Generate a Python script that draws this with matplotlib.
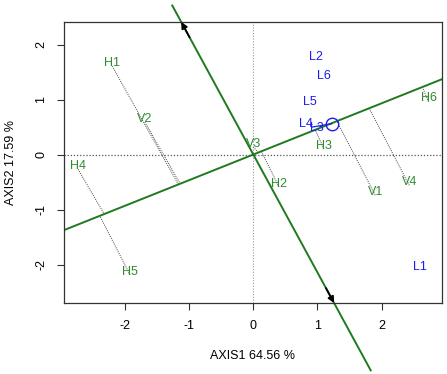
"""Biplot with projection axis, rebuilt from the reference picture."""

import matplotlib
matplotlib.use("Agg")
import matplotlib.pyplot as plt
import numpy as np

plt.rcParams["font.family"] = ["Liberation Sans", "DejaVu Sans"]
plt.rcParams["axes.unicode_minus"] = False

# green group: labels and coordinates
green_labels = ["H1", "V2", "V3", "H4", "H5", "H2", "H3", "V1", "V4", "H6"]
green_x = [-2.20, -1.69, 0.00, -2.73, -1.92, 0.40, 1.10, 1.90, 2.43, 2.73]
green_y = [1.67, 0.65, 0.20, -0.21, -2.13, -0.53, 0.16, -0.68, -0.50, 1.02]

# blue group
blue_labels = ["L2", "L6", "L5", "L4", "L3", "L1"]
blue_x = [0.98, 1.10, 0.88, 0.82, 0.99, 2.59]
blue_y = [1.78, 1.42, 0.95, 0.55, 0.48, -2.05]

# direction of the projection axis and the marked point on it
axis_dir = np.array([1.0, 0.466])
marked = (1.22, 0.56)

GREEN = "#2e8b2e"
LINE_GREEN = "#1f7a1f"
BLUE = "#1c1cf0"

fig = plt.figure(figsize=(4.47, 3.74), dpi=100)
ax = fig.add_axes([64 / 447, 71 / 374, 378 / 447, 281 / 374])
ax.set_xlim(-2.95, 2.94)
ax.set_ylim(-2.70, 2.41)

ax.axhline(0, color="#555555", linestyle=(0, (1, 1.5)), linewidth=0.9)
ax.axvline(0, color="#999999", linestyle=(0, (1, 1.5)), linewidth=0.8)

u = axis_dir / np.linalg.norm(axis_dir)
perp = np.array([-u[1], u[0]])

# dotted projections onto the axis
for px, py in zip(green_x, green_y):
    p = np.array([px, py])
    q = np.dot(p, u) * u
    ax.plot([px, q[0]], [py - 0.06, q[1]], color="#444444",
            linestyle=(0, (1, 1.2)), linewidth=0.7)

# projection axis (clipped) and its perpendicular (not clipped)
t = np.array([-5, 5])
ax.plot(t * u[0], t * u[1], color=LINE_GREEN, linewidth=1.4)
s = np.array([-4.33, 2.99])
ax.plot(s * perp[0], s * perp[1], color=LINE_GREEN, linewidth=1.4,
        clip_on=False)

# black arrows on the perpendicular line, ending at the frame
for a, b in [(2.35, 2.66), (-2.68, -2.98)]:
    ax.annotate("", xy=(b * perp[0], b * perp[1]),
                xytext=(a * perp[0], a * perp[1]),
                arrowprops=dict(arrowstyle="-|>", color="black", lw=1.3,
                                mutation_scale=9, shrinkA=0, shrinkB=0),
                annotation_clip=False)

for lab, x, y in zip(green_labels, green_x, green_y):
    ax.text(x, y, lab, color=GREEN, fontsize=9, ha="center", va="center")
for lab, x, y in zip(blue_labels, blue_x, blue_y):
    ax.text(x, y, lab, color=BLUE, fontsize=9, ha="center", va="center")

ax.plot([0.92, marked[0]], [0.50, marked[1]], color=BLUE, linewidth=0.9)
ax.plot(*marked, marker="o", markersize=9, markerfacecolor="none",
        markeredgecolor=BLUE, markeredgewidth=1.0)

ax.set_xticks([-2, -1, 0, 1, 2])
ax.set_yticks([-2, -1, 0, 1, 2])
ax.tick_params(length=5, width=0.8, pad=7, labelsize=9, color="#333333")
for lab in ax.get_yticklabels():
    lab.set_rotation(90)
    lab.set_va("center")
for sp in ax.spines.values():
    sp.set_color("#333333")
    sp.set_linewidth(0.9)

ax.set_xlabel("AXIS1 64.56 %", fontsize=9, labelpad=13)
ax.set_ylabel("AXIS2 17.59 %", fontsize=9, labelpad=13)

fig.savefig("out.png", dpi=100)
